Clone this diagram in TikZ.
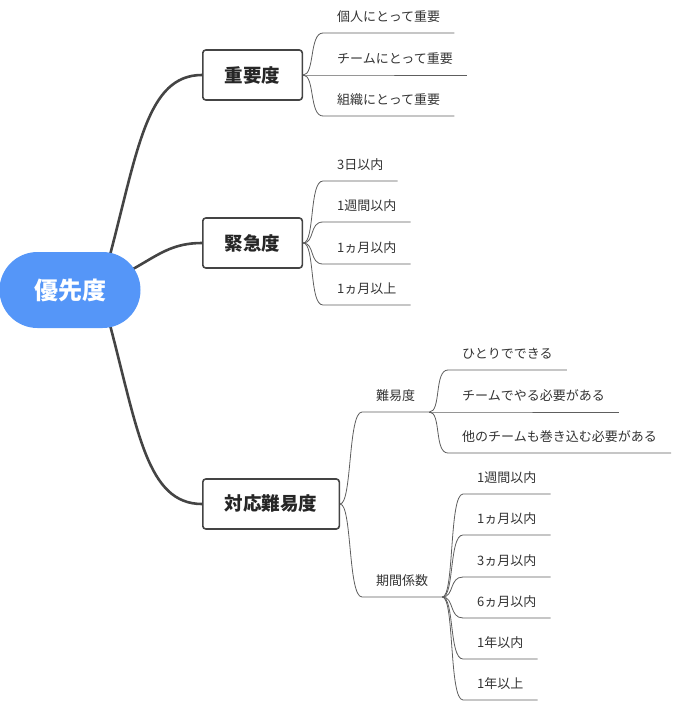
\documentclass[tikz,border=0pt]{standalone}
\usepackage{fontspec}
\setmainfont{Noto Sans CJK JP}
\usepackage{tikz}
\usetikzlibrary{backgrounds}
\definecolor{hubblue}{HTML}{5596F8}
\definecolor{ink}{HTML}{333333}
\definecolor{dark}{HTML}{444444}
\definecolor{thin}{HTML}{5E5E5E}
\tikzset{
  hub/.style={fill=hubblue, text=white, rounded corners=38pt, minimum width=141pt,
    minimum height=76pt, font=\bfseries\fontsize{24}{28}\selectfont},
  box/.style={draw=dark, fill=white, line width=1.6pt, rounded corners=3pt, anchor=west,
    minimum height=50pt, inner xsep=22pt, text=black!85, font=\bfseries\fontsize{18.5}{22}\selectfont},
  leaf/.style={anchor=south west, inner xsep=14pt, inner ysep=9pt, text depth=2pt,
    text=ink, font=\fontsize{13}{15}\selectfont},
  trunk/.style={draw=dark, line width=2.6pt, line cap=round},
  twig/.style={draw=thin, line width=0.8pt,
    to path={.. controls +(12,0) and +(-14,0) .. (\tikztotarget)}},
}
\begin{document}
\begin{tikzpicture}[x=1pt,y=-1pt]
  \useasboundingbox (0,0) rectangle (672,701);
  \node[hub] (root) at (70,290) {優先度};
  \node[box] (imp) at (202,75) {重要度};
  \node[box] (urg) at (202,243) {緊急度};
  \node[box] (diff) at (202,504) {対応難易度};
  % 重要度
  \node[leaf] (i1) at (323,33) {個人にとって重要};
  \node[leaf] (i2) at (323,75) {チームにとって重要};
  \node[leaf] (i3) at (323,116) {組織にとって重要};
  % 緊急度
  \node[leaf] (u1) at (323,181) {3日以内};
  \node[leaf] (u2) at (323,222) {1週間以内};
  \node[leaf] (u3) at (323,264) {1ヵ月以内};
  \node[leaf] (u4) at (323,305) {1ヵ月以上};
  % 対応難易度
  \node[leaf] (d1) at (362,412) {難易度};
  \node[leaf] (d2) at (362,597) {期間係数};
  \node[leaf] (e1) at (448,370) {ひとりでできる};
  \node[leaf] (e2) at (448,412) {チームでやる必要がある};
  \node[leaf] (e3) at (448,453) {他のチームも巻き込む必要がある};
  \node[leaf] (p1) at (463,494) {1週間以内};
  \node[leaf] (p2) at (463,535) {1ヵ月以内};
  \node[leaf] (p3) at (463,577) {3ヵ月以内};
  \node[leaf] (p4) at (463,618) {6ヵ月以内};
  \node[leaf] (p5) at (463,659) {1年以内};
  \node[leaf] (p6) at (463,700) {1年以上};
  \begin{scope}[on background layer]
    \draw[trunk] ([shift={(40,-35)}]root.center) .. controls +(28,-106) and +(-55,0) .. (imp.west);
    \draw[trunk] ([shift={(63,-21)}]root.center) .. controls +(25,-14) and +(-30,0) .. (urg.west);
    \draw[trunk] ([shift={(40,35)}]root.center) .. controls +(28,106) and +(-55,0) .. (diff.west);
  \end{scope}
  \draw[twig] (imp.east) to (i1.south west) -- (i1.south east);
  \draw[twig] (imp.east) to (i2.south west) -- (i2.south east);
  \draw[twig] (imp.east) to (i3.south west) -- (i3.south east);
  \draw[twig] (urg.east) to (u1.south west) -- (u1.south east);
  \draw[twig] (urg.east) to (u2.south west) -- (u2.south east);
  \draw[twig] (urg.east) to (u3.south west) -- (u3.south east);
  \draw[twig] (urg.east) to (u4.south west) -- (u4.south east);
  \draw[twig] (diff.east) to (d1.south west) -- (d1.south east);
  \draw[twig] (diff.east) to (d2.south west) -- (d2.south east);
  \draw[twig] (d1.south east) to (e1.south west) -- (e1.south east);
  \draw[twig] (d1.south east) to (e2.south west) -- (e2.south east);
  \draw[twig] (d1.south east) to (e3.south west) -- (e3.south east);
  \draw[twig] (d2.south east) to (p1.south west) -- (p1.south east);
  \draw[twig] (d2.south east) to (p2.south west) -- (p2.south east);
  \draw[twig] (d2.south east) to (p3.south west) -- (p3.south east);
  \draw[twig] (d2.south east) to (p4.south west) -- (p4.south east);
  \draw[twig] (d2.south east) to (p5.south west) -- (p5.south east);
  \draw[twig] (d2.south east) to (p6.south west) -- (p6.south east);
\end{tikzpicture}
\end{document}
